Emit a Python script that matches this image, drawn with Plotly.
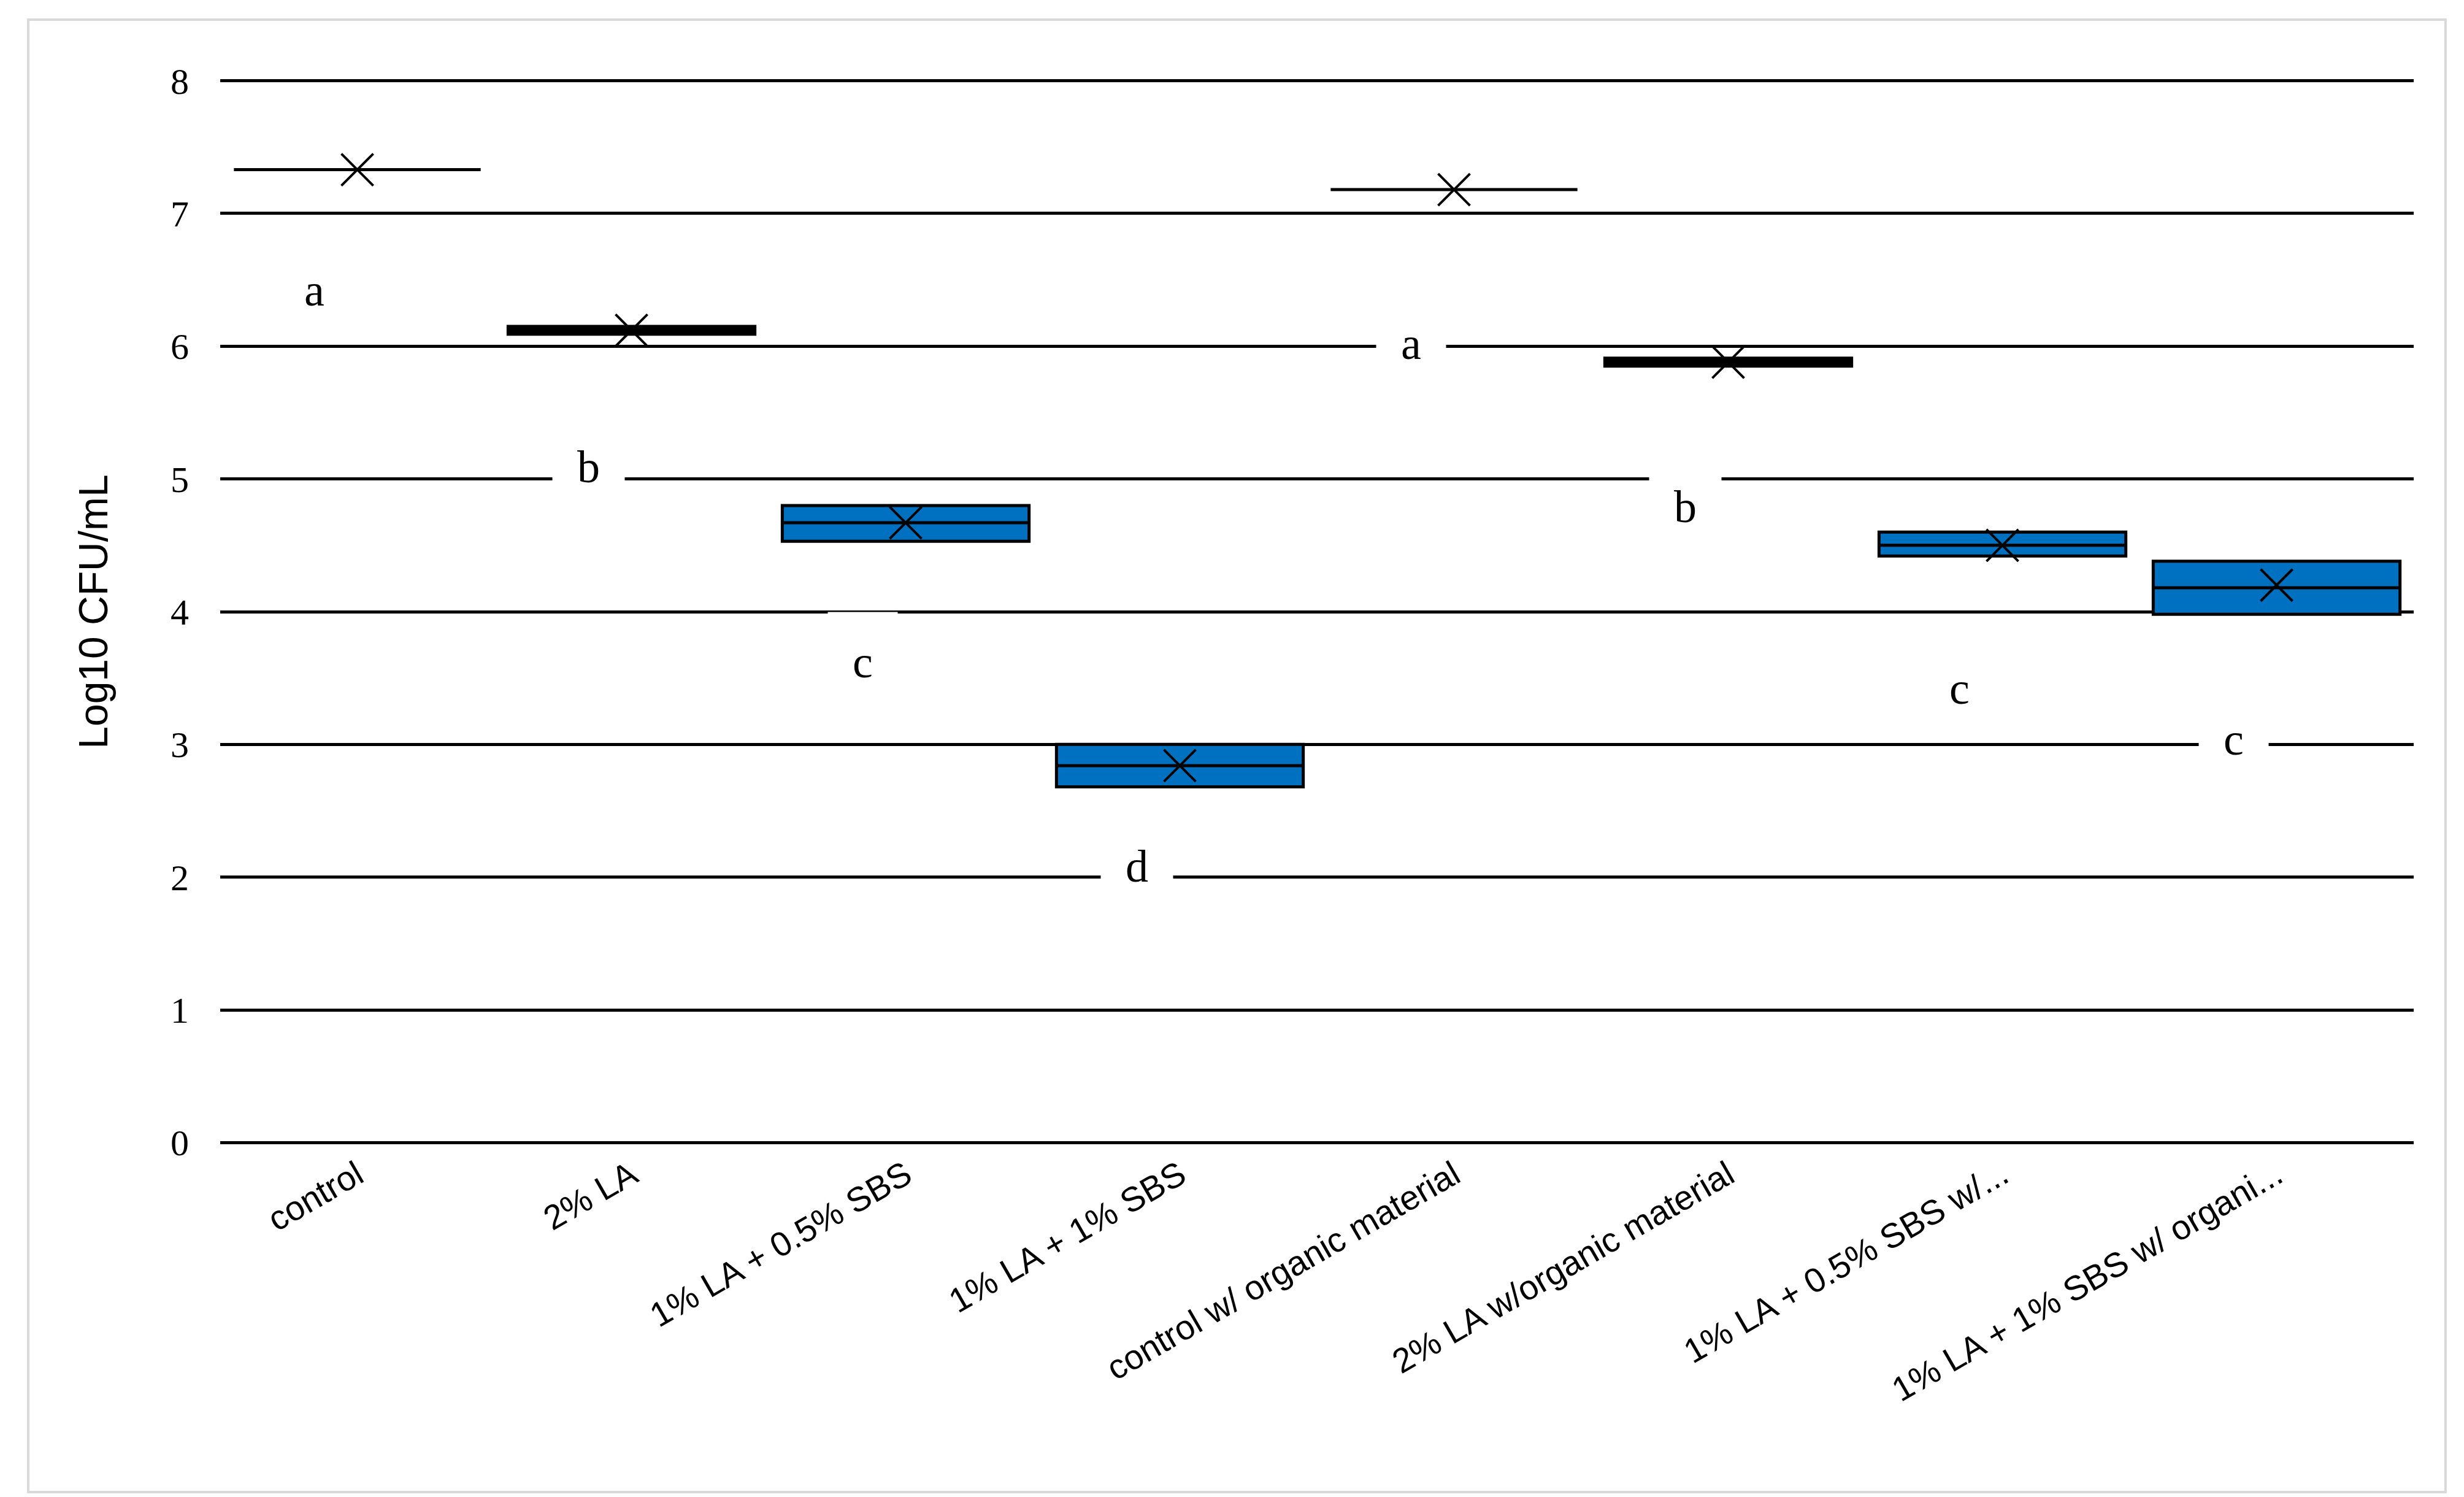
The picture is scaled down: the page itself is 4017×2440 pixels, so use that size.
import plotly.graph_objects as go

categories = ["control", "2% LA", "1% LA + 0.5% SBS", "1% LA + 1% SBS",
              "control w/ organic material", "2% LA w/organic material",
              "1% LA + 0.5% SBS w/...", "1% LA + 1% SBS w/ organi..."]
q1 = [7.33, 6.09, 4.53, 2.68, 7.18, 5.85, 4.42, 3.98]
median = [7.33, 6.12, 4.67, 2.84, 7.18, 5.88, 4.50, 4.18]
q3 = [7.33, 6.15, 4.80, 3.00, 7.18, 5.91, 4.60, 4.38]
means = [7.33, 6.12, 4.67, 2.84, 7.18, 5.88, 4.50, 4.20]
letters = ["a", "b", "c", "d", "a", "b", "c", "c"]
letter_y = [6.42, 5.09, 3.62, 2.08, 6.02, 4.79, 3.42, 3.04]

fig = go.Figure()
for i, cat in enumerate(categories):
    narrow = q3[i] - q1[i] < 0.1
    fig.add_trace(go.Box(
        x=[cat], q1=[q1[i]], median=[median[i]], q3=[q3[i]],
        lowerfence=[q1[i]], upperfence=[q3[i]],
        fillcolor="black" if narrow else "#0070C0",
        line=dict(color="black", width=5),
        width=0.9, whiskerwidth=0, showlegend=False, hoverinfo="skip"))

fig.add_trace(go.Scatter(
    x=categories, y=means, mode="markers", showlegend=False,
    marker=dict(symbol="x-thin", size=52, line=dict(color="black", width=4))))

for cat, txt, yv in zip(categories, letters, letter_y):
    fig.add_annotation(x=cat, y=yv, text=txt, showarrow=False, bgcolor="white",
                       font=dict(family="Liberation Serif", size=74, color="black"),
                       borderpad=40, xshift=-70)

fig.add_shape(type="rect", xref="paper", yref="paper", x0=-0.0875, x1=1.0145,
              y0=-0.321, y1=1.052, line=dict(color="#d9d9d9", width=4), layer="below")

fig.update_layout(
    width=4017, height=2440, plot_bgcolor="white", paper_bgcolor="white",
    margin=dict(l=351, r=90, t=115, b=577),
    font=dict(family="Liberation Sans", color="black"),
    xaxis=dict(tickangle=-30, tickfont=dict(size=56), showgrid=False,
               showline=False, ticks="", range=[-0.5, 7.5]),
    yaxis=dict(range=[-0.04, 8.04], dtick=1, showgrid=True, gridcolor="black", gridwidth=5,
               zeroline=False, tickfont=dict(size=60, family="Liberation Serif"),
               ticklabelstandoff=50,
               title=dict(text="Log10 CFU/mL", font=dict(size=66), standoff=80)),
)

fig.write_html("out.html")
